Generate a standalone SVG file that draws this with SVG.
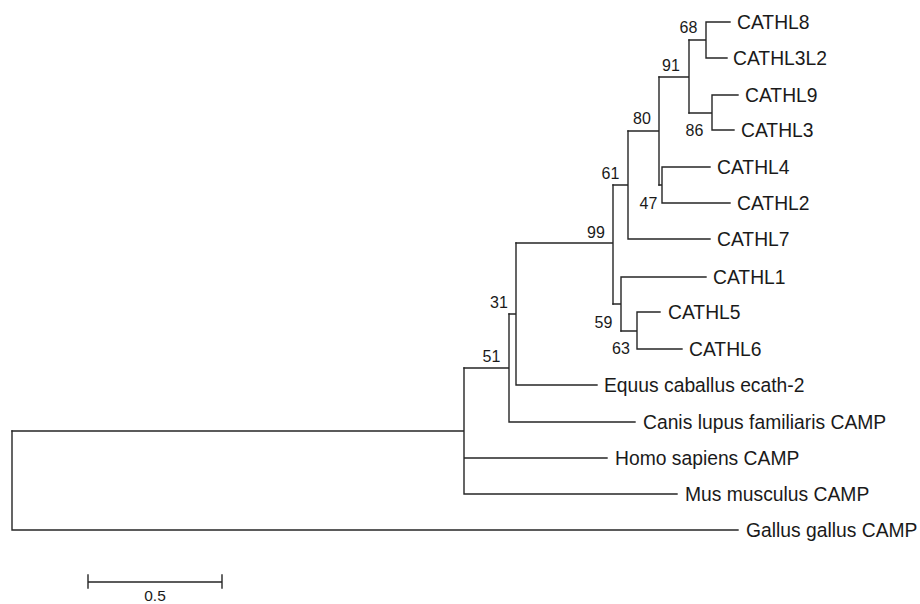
<svg xmlns="http://www.w3.org/2000/svg" width="920" height="604" viewBox="0 0 920 604">
<style>
.br{fill:none;stroke:#262626;stroke-width:1.4;stroke-linecap:square}
.lf{font-family:"Liberation Sans",Arial,sans-serif;font-size:19.3px;fill:#1a1a1a}
.bs{font-family:"Liberation Sans",Arial,sans-serif;font-size:16px;fill:#1a1a1a;text-anchor:middle}
.sc{font-family:"Liberation Sans",Arial,sans-serif;font-size:15.5px;fill:#1a1a1a;text-anchor:middle}
</style>
<rect width="920" height="604" fill="#fff"/>
<g id="connectors">
<path class="br" d="M706,22 V58 M706,22 H730 M706,58 H727 M689,40 H706"/>
<path class="br" d="M712,95 V130 M712,95 H738 M712,130 H734 M689,113 H712"/>
<path class="br" d="M689,40 V113 M659,77 H689"/>
<path class="br" d="M662,167 V203 M662,167 H710 M662,203 H730 M659,185 H662"/>
<path class="br" d="M659,77 V185 M628,131 H659"/>
<path class="br" d="M628,131 V239 M628,239 H710 M613,185 H628"/>
<path class="br" d="M637,312 V349 M637,312 H660 M637,349 H682 M621,331 H637"/>
<path class="br" d="M621,277 V331 M621,277 H706 M613,304 H621"/>
<path class="br" d="M613,185 V304 M516,243 H613"/>
<path class="br" d="M516,243 V385 M516,385 H597 M509,314 H516"/>
<path class="br" d="M509,314 V422 M509,422 H635 M464,368 H509"/>
<path class="br" d="M464,368 V494 M464,458 H607 M464,494 H677 M12,431 H464"/>
<path class="br" d="M12,431 V530 M12,530 H738"/>
<path class="br" d="M88,582 H222 M88,575 V588 M222,575 V588"/>
</g>
<g id="leaves">
<text id="CATHL8" class="lf" x="737" y="29">CATHL8</text>
<text id="CATHL3L2" class="lf" x="733" y="65">CATHL3L2</text>
<text id="CATHL9" class="lf" x="745" y="102">CATHL9</text>
<text id="CATHL3" class="lf" x="741" y="137">CATHL3</text>
<text id="CATHL4" class="lf" x="717" y="174">CATHL4</text>
<text id="CATHL2" class="lf" x="737" y="210">CATHL2</text>
<text id="CATHL7" class="lf" x="717" y="246">CATHL7</text>
<text id="CATHL1" class="lf" x="713" y="284">CATHL1</text>
<text id="CATHL5" class="lf" x="668" y="319">CATHL5</text>
<text id="CATHL6" class="lf" x="689" y="356">CATHL6</text>
<text id="Equus" class="lf" x="604" y="392">Equus caballus ecath-2</text>
<text id="Canis" class="lf" x="643" y="429">Canis lupus familiaris CAMP</text>
<text id="Homo" class="lf" x="615" y="465">Homo sapiens CAMP</text>
<text id="Mus" class="lf" x="685" y="501">Mus musculus CAMP</text>
<text id="Gallus" class="lf" x="746" y="537">Gallus gallus CAMP</text>
</g>
<g id="bootstrap">
<text class="bs" x="688.5" y="32.5">68</text>
<text class="bs" x="671" y="70.5">91</text>
<text class="bs" x="642" y="123.5">80</text>
<text class="bs" x="694.5" y="135.5">86</text>
<text class="bs" x="648.5" y="208.5">47</text>
<text class="bs" x="610.5" y="178.5">61</text>
<text class="bs" x="596" y="237.5">99</text>
<text class="bs" x="499" y="307.5">31</text>
<text class="bs" x="491.5" y="361.5">51</text>
<text class="bs" x="603.5" y="327.5">59</text>
<text class="bs" x="621" y="353.5">63</text>
</g>
<g id="scalebar">
<text class="sc" x="155" y="601">0.5</text>
</g>
</svg>
